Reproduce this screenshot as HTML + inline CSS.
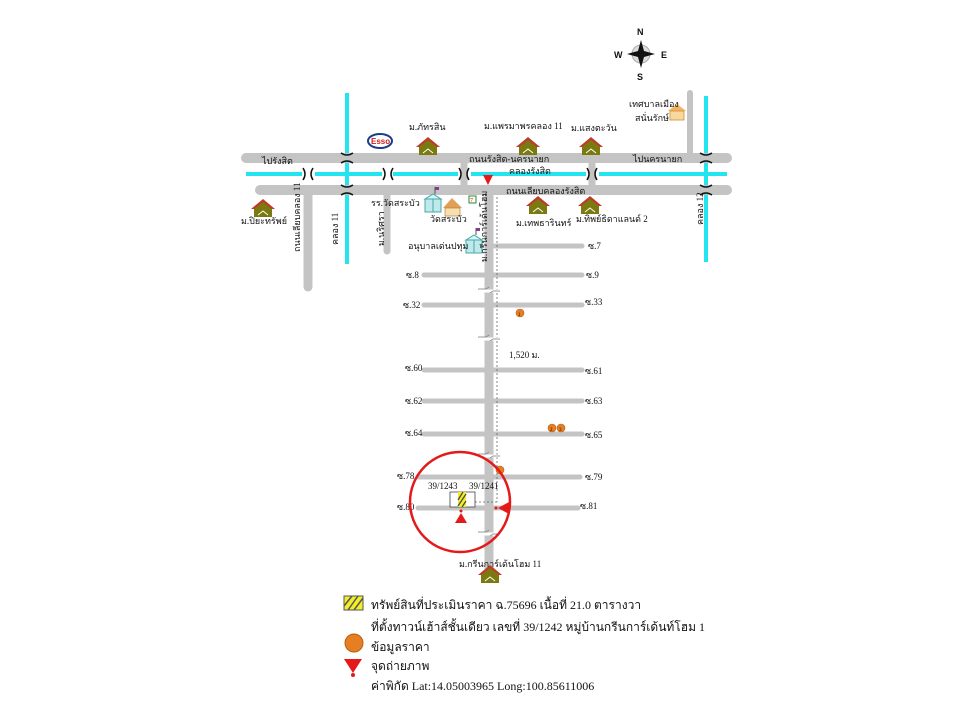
<!DOCTYPE html>
<html><head><meta charset="utf-8"><style>
html,body{margin:0;padding:0;background:#fff;}
svg{display:block;}
text{font-family:"Liberation Serif","Noto Serif CJK SC","Noto Sans CJK SC",serif;font-size:9px;fill:#111;}
.lg{font-size:12px;}
</style></head><body>
<svg width="960" height="720" viewBox="0 0 960 720" xmlns="http://www.w3.org/2000/svg">
<defs>
<g id="house">
<polygon points="-12,0 0,-10 12,0" fill="#c0392b"/>
<polygon points="-9,0 0,-7 9,0" fill="#7a7a10"/>
<rect x="-9" y="0" width="18" height="8" fill="#7a7a10"/>
<polyline points="-5,6 0,2 5,6" stroke="#fff" fill="none" stroke-width="1"/>
</g>
<g id="school">
<rect x="-8" y="-6" width="16" height="13" fill="#bfe9ea" stroke="#4aa" stroke-width="1"/>
<polygon points="-8,-6 0,-11 8,-6" fill="#d8f3f3" stroke="#4aa" stroke-width="1"/>
<line x1="0" y1="-6" x2="0" y2="7" stroke="#4aa"/>
<line x1="2" y1="-11" x2="2" y2="-18" stroke="#555"/>
<rect x="2" y="-18" width="4" height="3" fill="#8b3a8b"/>
</g>
<g id="br">
<path d="M-5,-6 Q-1,0 -5,6" stroke="#111" fill="none" stroke-width="1.5"/>
<path d="M5,-6 Q1,0 5,6" stroke="#111" fill="none" stroke-width="1.5"/>
</g>
<g id="brh">
<path d="M-6,-5 Q0,-1 6,-5" stroke="#111" fill="none" stroke-width="1.5"/>
<path d="M-6,5 Q0,1 6,5" stroke="#111" fill="none" stroke-width="1.5"/>
</g>
</defs>

<line x1="347" y1="93" x2="347" y2="264" stroke="#22e5f0" stroke-width="4"/>
<line x1="706" y1="96" x2="706" y2="262" stroke="#22e5f0" stroke-width="4"/>
<g stroke="#c4c4c4" stroke-linecap="round">
<line x1="246" y1="158" x2="727" y2="158" stroke-width="10"/>
<line x1="260" y1="190" x2="727" y2="190" stroke-width="10"/>
<line x1="308" y1="190" x2="308" y2="287" stroke-width="9"/>
<line x1="387" y1="190" x2="387" y2="251" stroke-width="7"/>
<line x1="464" y1="158" x2="464" y2="190" stroke-width="7"/>
<line x1="592" y1="158" x2="592" y2="190" stroke-width="7"/>
<line x1="690" y1="93" x2="690" y2="158" stroke-width="6"/>
<line x1="489" y1="190" x2="489" y2="572" stroke-width="9" stroke-linecap="butt"/>
<g stroke-width="5">
<line x1="495" y1="246" x2="582" y2="246"/>
<line x1="424" y1="275" x2="582" y2="275"/>
<line x1="424" y1="305" x2="582" y2="305"/>
<line x1="424" y1="370" x2="582" y2="370"/>
<line x1="424" y1="401" x2="582" y2="401"/>
<line x1="424" y1="434" x2="582" y2="434"/>
<line x1="418" y1="477" x2="580" y2="477"/>
<line x1="418" y1="508" x2="578" y2="508"/>
</g>
</g>
<g stroke="#22e5f0" stroke-width="4">
<line x1="246" y1="174" x2="302" y2="174"/>
<line x1="315" y1="174" x2="382" y2="174"/>
<line x1="393" y1="174" x2="458" y2="174"/>
<line x1="471" y1="174" x2="586" y2="174"/>
<line x1="599" y1="174" x2="727" y2="174"/>
</g>
<g>
<use href="#br" x="308" y="174"/>
<use href="#br" x="388" y="174"/>
<use href="#br" x="464" y="174"/>
<use href="#br" x="592" y="174"/>
<use href="#brh" x="347" y="158"/>
<use href="#brh" x="347" y="190"/>
<use href="#brh" x="706" y="158"/>
<use href="#brh" x="706" y="190"/>
</g>
<line x1="497" y1="197" x2="497" y2="502" stroke="#666" stroke-width="0.8" stroke-dasharray="2,2"/>
<line x1="455" y1="502" x2="497" y2="502" stroke="#666" stroke-width="0.8" stroke-dasharray="2,2"/>
<g stroke="#fff" stroke-width="3" fill="none">
<path d="M478,291 h22"/><path d="M478,339 h22"/><path d="M478,456 h22"/><path d="M478,534 h22"/>
</g>
<g stroke="#777" stroke-width="0.7" fill="none">
<path d="M478,289 h8 l3,-2 M490,293 l3,-2 h7"/>
<path d="M478,337 h8 l3,-2 M490,341 l3,-2 h7"/>
<path d="M478,454 h8 l3,-2 M490,458 l3,-2 h7"/>
<path d="M478,532 h8 l3,-2 M490,536 l3,-2 h7"/>
</g>

<g transform="translate(641,54)">
<circle r="9" fill="#ddd" stroke="#aaa"/>
<polygon points="0,-14 3,-3 14,0 3,3 0,14 -3,3 -14,0 -3,-3" fill="#111"/>
<text x="-4" y="-19" style="font-family:'Liberation Sans',sans-serif;font-weight:bold;font-size:9px">N</text>
<text x="-4" y="26" style="font-family:'Liberation Sans',sans-serif;font-weight:bold;font-size:9px">S</text>
<text x="-27" y="4" style="font-family:'Liberation Sans',sans-serif;font-weight:bold;font-size:9px">W</text>
<text x="20" y="4" style="font-family:'Liberation Sans',sans-serif;font-weight:bold;font-size:9px">E</text>
</g>

<ellipse cx="380" cy="141" rx="12" ry="7" fill="#fff" stroke="#1a3b8f" stroke-width="2"/>
<text x="371" y="144" style="font-family:'Liberation Sans',sans-serif;font-weight:bold;font-size:8px;fill:#d01c1c">Esso</text>

<use href="#house" x="428" y="147"/>
<use href="#house" x="528" y="147"/>
<use href="#house" x="591" y="147"/>
<use href="#house" x="263" y="209"/>
<use href="#house" x="538" y="206"/>
<use href="#house" x="590" y="206"/>
<use href="#house" x="490" y="575"/>
<polygon points="668,111 677,104 686,111" fill="#f2b463"/>
<rect x="670" y="111" width="14" height="9" fill="#f7d9a0" stroke="#d08a30" stroke-width="0.8"/>
<use href="#school" x="433" y="205"/>
<use href="#school" x="474" y="246"/>
<polygon points="443,208 452,198 462,208" fill="#e0a05a"/>
<rect x="445" y="208" width="15" height="8" fill="#f6e0b0" stroke="#b07030" stroke-width="0.6"/>
<rect x="469" y="196" width="7" height="7" fill="#fff" stroke="#2a8a2a"/>
<text x="470" y="202" style="font-size:6px;fill:#d00">7</text>

<text x="262" y="164">ไปรังสิต</text>
<text x="469" y="162">ถนนรังสิต-นครนายก</text>
<text x="633" y="162">ไปนครนายก</text>
<text x="509" y="174">คลองรังสิต</text>
<text x="506" y="194">ถนนเลียบคลองรังสิต</text>
<text x="409" y="130">ม.ภัทรสิน</text>
<text x="484" y="129">ม.แพรมาพรคลอง 11</text>
<text x="571" y="131">ม.แสงตะวัน</text>
<text x="629" y="107">เทศบาลเมือง</text>
<text x="635" y="121">สนั่นรักษ์</text>
<text x="241" y="224">ม.ปิยะทรัพย์</text>
<text x="371" y="206">รร.วัดสระบัว</text>
<text x="430" y="222">วัดสระบัว</text>
<text x="516" y="226">ม.เทพธารินทร์</text>
<text x="576" y="222">ม.ทิพย์ธิดาแลนด์ 2</text>
<text x="408" y="249">อนุบาลเด่นปทุม</text>
<text x="300" y="252" transform="rotate(-90 300 252)">ถนนเลียบคลอง 11</text>
<text x="338" y="245" transform="rotate(-90 338 245)">คลอง 11</text>
<text x="384" y="246" transform="rotate(-90 384 246)">ม.นริศรา</text>
<text x="703" y="225" transform="rotate(-90 703 225)">คลอง 12</text>
<text x="487" y="262" transform="rotate(-90 487 262)">ม.กรีนการ์เด้นโฮม</text>

<text x="588" y="249">ซ.7</text>
<text x="406" y="278">ซ.8</text><text x="586" y="278">ซ.9</text>
<text x="403" y="308">ซ.32</text><text x="585" y="305">ซ.33</text>
<text x="405" y="371">ซ.60</text><text x="585" y="374">ซ.61</text>
<text x="405" y="404">ซ.62</text><text x="585" y="404">ซ.63</text>
<text x="405" y="436">ซ.64</text><text x="585" y="438">ซ.65</text>
<text x="397" y="479">ซ.78</text><text x="585" y="480">ซ.79</text>
<text x="397" y="510">ซ.80</text><text x="580" y="509">ซ.81</text>
<text x="509" y="358">1,520 ม.</text>
<text x="428" y="489">39/1243</text>
<text x="469" y="489">39/1241</text>
<text x="459" y="567">ม.กรีนการ์เด้นโฮม 11</text>

<g fill="#e67e22" stroke="#b85f10" stroke-width="0.6">
<circle cx="520" cy="313" r="4"/>
<circle cx="552" cy="428" r="4"/>
<circle cx="561" cy="428" r="4"/>
<circle cx="500" cy="470" r="4"/>
</g>
<text x="518" y="316" style="font-size:5px">1</text>
<text x="550" y="431" style="font-size:5px">2</text>
<text x="559" y="431" style="font-size:5px">3</text>

<rect x="450" y="492" width="25" height="15" fill="#fff" stroke="#444" stroke-width="0.8"/>
<rect x="458" y="492" width="8" height="15" fill="#f2ee2a"/>
<g stroke="#444" stroke-width="1.2"><line x1="458" y1="500" x2="463" y2="492"/><line x1="458" y1="506" x2="466" y2="494"/><line x1="462" y1="507" x2="466" y2="501"/></g>
<polygon points="461,513 455,523 467,523" fill="#e41a1a"/>
<circle cx="461" cy="511" r="1.5" fill="#e41a1a"/>
<polygon points="498,508 509,502 509,514" fill="#e41a1a"/>
<circle cx="496" cy="508" r="1.5" fill="#e41a1a"/>
<polygon points="483,175 493,175 488,185" fill="#e41a1a"/>

<circle cx="460" cy="502" r="50" fill="none" stroke="#e41a1a" stroke-width="2.5"/>

<rect x="344" y="596" width="19" height="14" fill="#f2ee2a" stroke="#555"/>
<g stroke="#555" stroke-width="1.5"><line x1="344" y1="606" x2="352" y2="596"/><line x1="348" y1="610" x2="358" y2="596"/><line x1="354" y1="610" x2="363" y2="598"/></g>
<text class="lg" x="371" y="609">ทรัพย์สินที่ประเมินราคา ฉ.75696 เนื้อที่ 21.0 ตารางวา</text>
<text class="lg" x="371" y="631">ที่ตั้งทาวน์เฮ้าส์ชั้นเดียว เลขที่ 39/1242 หมู่บ้านกรีนการ์เด้นท์โฮม 1</text>
<circle cx="354" cy="643" r="9" fill="#e67e22" stroke="#b85f10"/>
<text class="lg" x="371" y="651">ข้อมูลราคา</text>
<polygon points="344,659 362,659 353,673" fill="#e41a1a"/>
<circle cx="353" cy="675" r="2" fill="#e41a1a"/>
<text class="lg" x="371" y="670">จุดถ่ายภาพ</text>
<text class="lg" x="371" y="690">ค่าพิกัด  Lat:14.05003965 Long:100.85611006</text>
</svg>
</body></html>
